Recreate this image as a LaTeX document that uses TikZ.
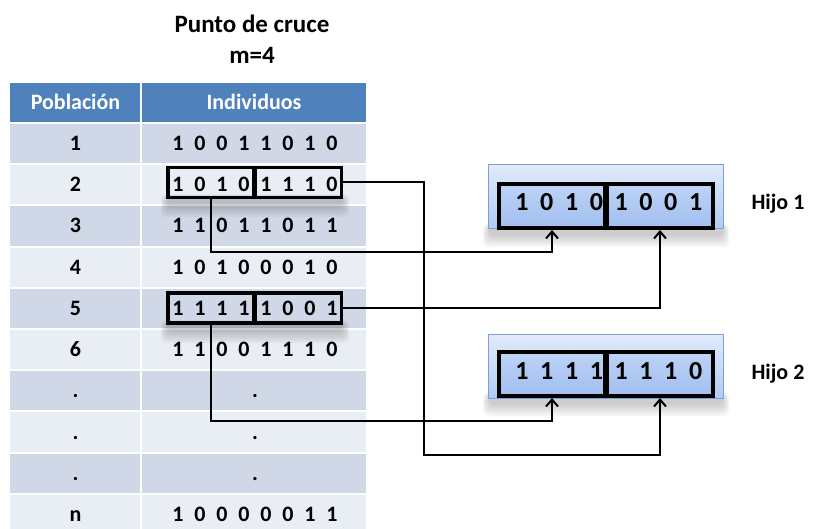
\documentclass[tikz,border=0pt]{standalone}
\usepackage{fontspec}
\setmainfont{Carlito}
\usetikzlibrary{arrows.meta}
\definecolor{hdr}{RGB}{79,129,189}
\definecolor{rowA}{RGB}{208,216,232}
\definecolor{rowB}{RGB}{233,237,244}
\definecolor{panelTop}{RGB}{224,234,251}
\definecolor{panelBot}{RGB}{176,203,242}
\definecolor{panelEdge}{RGB}{122,160,218}
\definecolor{boxTop}{RGB}{190,212,247}
\definecolor{boxBot}{RGB}{160,190,238}
\tikzset{
  tabtxt/.style={font=\bfseries\fontsize{22}{25}\selectfont, text height=14pt, text depth=0pt, inner sep=0pt},
  hdrtxt/.style={tabtxt, text=white},
  titletxt/.style={font=\bfseries\fontsize{25}{29}\selectfont, text height=16pt, text depth=0pt, inner sep=0pt},
  hijotxt/.style={font=\bfseries\fontsize{26}{30}\selectfont, text height=16.7pt, text depth=0pt, inner sep=0pt},
  labtxt/.style={font=\bfseries\fontsize{22}{26}\selectfont, text height=14.2pt, text depth=0pt, inner sep=0pt},
  selbox/.style={draw=black, line width=3.5pt, minimum height=30pt, inner sep=0pt},
  childbox/.style={draw=black, line width=4pt, minimum width=106pt, minimum height=44pt, inner sep=0pt, top color=boxTop, bottom color=boxBot},
  panel/.style={draw=panelEdge, line width=1pt, minimum width=235pt, minimum height=64pt, inner sep=0pt, top color=panelTop, bottom color=panelBot},
  link/.style={draw=black, line width=2pt},
  linkarrow/.style={link, -{Straight Barb[length=7pt,width=12pt,line width=2pt]}},
}
\newcommand{\softshade}[4]{%
  \foreach \s in {1,...,6}{%
    \fill[black, opacity=0.035, rounded corners=6pt] (#1-\s*1.2, #2+2-\s*0.6) rectangle (#3+\s*1.2, #4+\s*2.2);
  }}
\begin{document}
\begin{tikzpicture}[x=1pt, y=-1pt]
\useasboundingbox (0,0) rectangle (813,529);

% title
\node[titletxt] (title) at (252,25) {Punto de cruce};
\node[titletxt] (mval) at (252,56) {m=4};

% header
\fill[hdr] (10,83) rectangle (140,122);
\fill[hdr] (142,83) rectangle (366,122);
\node[hdrtxt] (hpob) at (75.5,102.5) {Población};
\node[hdrtxt] (hind) at (254,102.5) {Individuos};

% row backgrounds and population labels
\foreach \lab [count=\k] in {1,2,3,4,5,6,.,.,.,n}{
  \pgfmathsetmacro{\rtop}{123+(\k-1)*41.2}
  \pgfmathsetmacro{\rbot}{\rtop+41.2}
  \pgfmathsetmacro{\rmid}{\rtop+20.6}
  \pgfmathtruncatemacro{\odd}{mod(\k,2)}
  \ifnum\odd=1 \def\rc{rowA}\else\def\rc{rowB}\fi
  \fill[\rc] (10,\rtop+1) rectangle (140,\rbot-1);
  \fill[\rc] (142,\rtop+1) rectangle (366,\rbot-1);
  \node[tabtxt] (lab\k) at (75.5,\rmid) {\lab};
}

% individuals (bit strings)
\foreach \k/\bits in {
  1/{1,0,0,1,1,0,1,0},
  2/{1,0,1,0,1,1,1,0},
  3/{1,1,0,1,1,0,1,1},
  4/{1,0,1,0,0,0,1,0},
  5/{1,1,1,1,1,0,0,1},
  6/{1,1,0,0,1,1,1,0},
  10/{1,0,0,0,0,0,1,1}}{
  \pgfmathsetmacro{\rmid}{123+(\k-1)*41.2+20.6}
  \foreach \b [count=\j from 0] in \bits {
    \node[tabtxt] (d\k-\j) at (178+22*\j,\rmid) {\b};
  }
}
\foreach \k in {7,8,9}{
  \pgfmathsetmacro{\rmid}{123+(\k-1)*41.2+20.6}
  \node[tabtxt] (dot\k) at (255,\rmid) {.};
}

% soft shadows under the selected chromosomes and the children
\softshade{168}{196}{342}{204}
\softshade{168}{322}{342}{330}
\softshade{490}{225}{722}{234}
\softshade{490}{394}{722}{403}

% selected parents
\node[selbox, minimum width=85.5pt] (r2L) at (210.5,182.5) {};
\node[selbox, minimum width=86.5pt] (r2R) at (298,182.5) {};
\node[selbox, minimum width=85.5pt] (r5L) at (210.5,308) {};
\node[selbox, minimum width=86.5pt] (r5R) at (298,308) {};

% children panels
\node[panel] (p1) at (605.5,197) {};
\node[panel] (p2) at (605.5,366.5) {};
\node[childbox] (h1L) at (552,206) {};
\node[childbox] (h1R) at (660,206) {};
\node[childbox] (h2L) at (552,374) {};
\node[childbox] (h2R) at (660,374) {};

\foreach \b [count=\j from 0] in {1,0,1,0,1,0,0,1}{
  \node[hijotxt] (c1-\j) at (522+24.8*\j,202) {\b};
}
\foreach \b [count=\j from 0] in {1,1,1,1,1,1,1,0}{
  \node[hijotxt] (c2-\j) at (522+24.8*\j,371) {\b};
}
\node[labtxt] (hijo1) at (778,202) {Hijo 1};
\node[labtxt] (hijo2) at (778,372) {Hijo 2};

% connectors
\coordinate (k1) at (424,455);
\coordinate (k2) at (300,252);
\coordinate (k3) at (300,421);
\draw[linkarrow] (r2R.east) -| (k1) -| (h2R.south);
\draw[linkarrow] (r2L.south) |- (k2) -| (h1L.south);
\draw[linkarrow] (r5R.east) -| (h1R.south);
\draw[linkarrow] (r5L.south) |- (k3) -| (h2L.south);
\end{tikzpicture}
\end{document}
